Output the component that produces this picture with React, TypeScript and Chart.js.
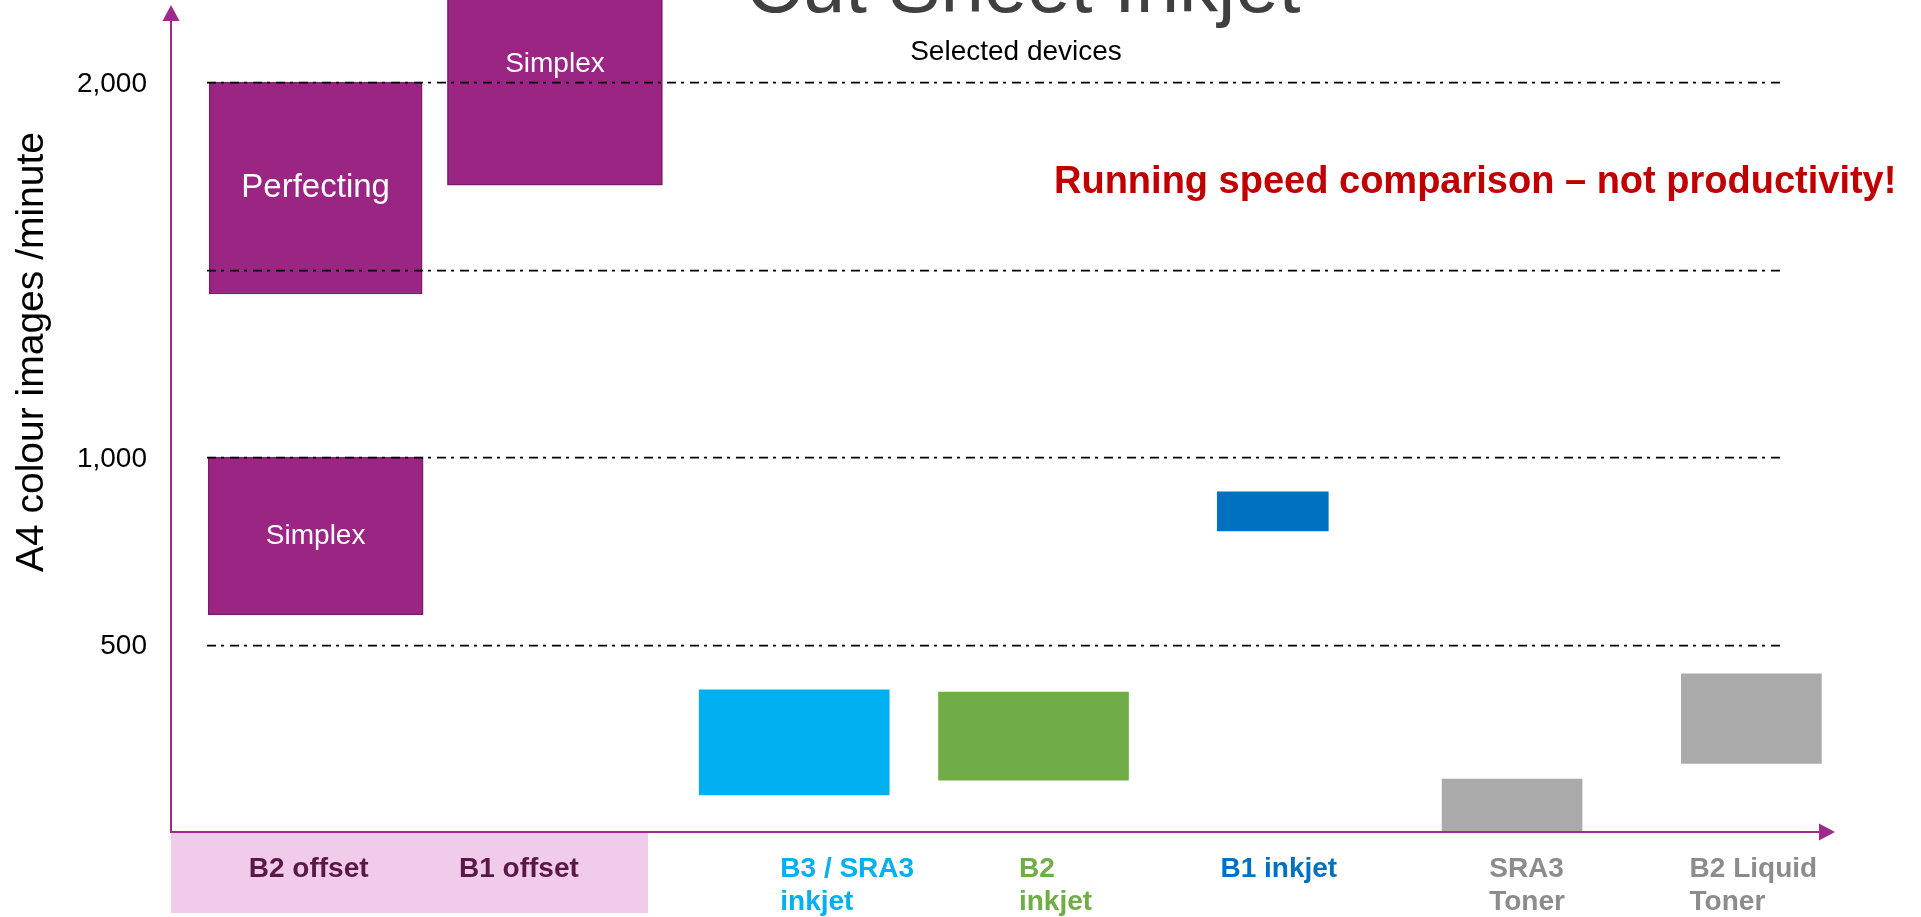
import React, { useEffect, useRef } from 'react';
import { Chart, registerables } from 'chart.js';

Chart.register(...registerables);

// ---------- data ----------
const categories = ['B2 offset', 'B1 offset', 'B3 / SRA3 inkjet', 'B2 inkjet', 'B1 inkjet', 'SRA3 Toner', 'B2 Liquid Toner'];
const categoryLines = [['B2 offset'], ['B1 offset'], ['B3 / SRA3', 'inkjet'], ['B2', 'inkjet'], ['B1 inkjet'], ['SRA3', 'Toner'], ['B2 Liquid', 'Toner']];

const simplexRange = [[579, 1000], [1725, 2370], null, null, null, null, null];
const perfectingRange = [[1435, 2000], null, null, null, null, null, null];
const sheetInkjetRange = [null, null, [99, 379], [138, 373], null, null, null];
const b1InkjetRange = [null, null, null, null, [803, 907], null, null];
const tonerRange = [null, null, null, null, null, [0, 141], [183, 422]];

const yTickValues = [500, 1000, 1500, 2000];
const yTickLabels = ['500', '1,000', '', '2,000'];

const simplexText = 'Simplex';
const perfectingText = 'Perfecting';
const titleText = 'Cut Sheet Inkjet';
const subtitleText = 'Selected devices';
const noteText = 'Running speed comparison \u2013 not productivity!';
const yAxisTitle = 'A4 colour images /minute';

// ---------- styles ----------
const FONT = '"Liberation Sans", Arial, Helvetica, sans-serif';
const PURPLE = '#9B2583';
const PURPLE_EDGE = '#7A1D68';
const AXIS = '#9E2A8E';
const labelColors = ['#5A1849', '#5A1849', '#00B0F0', '#70AD47', '#0070C0', '#8C8C8C', '#8C8C8C'];
const labelNudge = [-7, -36, 53, 22, 6, 15, 2];
const barColors = ['#00B0F0', '#00B0F0', '#00B0F0', '#70AD47', '#0070C0', '#AAAAAA', '#AAAAAA'];

const decorPlugin = {
  id: 'decor',
  beforeDraw(chart: any) {
    const { ctx, chartArea } = chart;
    const ax = chartArea.left - 25;
    ctx.save();
    ctx.fillStyle = '#F1CBEA';
    ctx.fillRect(ax, chartArea.bottom + 1, 648 - ax, 80);
    ctx.restore();
  },
  afterDatasetsDraw(chart: any) {
    const { ctx, chartArea, scales } = chart;
    const y = scales.y;
    const x = scales.x;
    ctx.save();

    // dash-dot grid lines
    ctx.strokeStyle = '#000000';
    ctx.lineWidth = 1.75;
    ctx.setLineDash([9, 5, 3, 6]);
    yTickValues.forEach((v) => {
      const py = Math.round(y.getPixelForValue(v)) + 0.5;
      ctx.beginPath();
      ctx.moveTo(chartArea.left + 11, py);
      ctx.lineTo(chartArea.right - 88, py);
      ctx.stroke();
    });
    ctx.setLineDash([]);

    // y tick labels
    ctx.fillStyle = '#000000';
    ctx.font = `28px ${FONT}`;
    ctx.textAlign = 'right';
    ctx.textBaseline = 'middle';
    yTickValues.forEach((v, i) => {
      if (!yTickLabels[i]) return;
      ctx.fillText(yTickLabels[i], chartArea.left - 49, y.getPixelForValue(v) + 2);
    });

    // labels inside bars
    chart.data.datasets.forEach((ds: any, i: number) => {
      if (!ds.inBarLabel) return;
      const meta = chart.getDatasetMeta(i);
      meta.data.forEach((el: any, j: number) => {
        if (ds.data[j] == null) return;
        ctx.fillStyle = '#FFFFFF';
        ctx.font = `${ds.inBarFont}px ${FONT}`;
        ctx.textAlign = 'center';
        ctx.textBaseline = 'middle';
        ctx.fillText(ds.inBarLabel, el.x, (el.y + el.base) / 2);
      });
    });

    // axes with arrows
    const ax = chartArea.left - 25;
    const ay = chartArea.bottom;
    ctx.strokeStyle = AXIS;
    ctx.fillStyle = AXIS;
    ctx.lineWidth = 2;
    ctx.beginPath();
    ctx.moveTo(ax, ay);
    ctx.lineTo(ax, 20);
    ctx.stroke();
    ctx.beginPath();
    ctx.moveTo(ax, 5);
    ctx.lineTo(ax - 8.5, 21);
    ctx.lineTo(ax + 8.5, 21);
    ctx.closePath();
    ctx.fill();
    ctx.beginPath();
    ctx.moveTo(ax - 1, ay);
    ctx.lineTo(chartArea.right - 51, ay);
    ctx.stroke();
    const tip = chartArea.right - 36;
    ctx.beginPath();
    ctx.moveTo(tip, ay);
    ctx.lineTo(tip - 16, ay - 8.5);
    ctx.lineTo(tip - 16, ay + 8.5);
    ctx.closePath();
    ctx.fill();

    // category labels
    ctx.font = `bold 28px ${FONT}`;
    ctx.textAlign = 'left';
    ctx.textBaseline = 'alphabetic';
    categoryLines.forEach((lines, i) => {
      const cx = x.getPixelForValue(i);
      const w = Math.max(...lines.map((l) => ctx.measureText(l).width));
      ctx.fillStyle = labelColors[i];
      lines.forEach((l, k) => {
        ctx.fillText(l, cx - w / 2 + labelNudge[i], ay + 45 + k * 33);
      });
    });

    // titles and notes
    ctx.fillStyle = '#404040';
    ctx.font = `78px ${FONT}`;
    ctx.textAlign = 'center';
    ctx.fillText(titleText, 1023, 12);
    ctx.fillStyle = '#000000';
    ctx.font = `28px ${FONT}`;
    ctx.fillText(subtitleText, 1016, 60);
    ctx.fillStyle = '#C00000';
    ctx.font = `bold 38px ${FONT}`;
    ctx.textAlign = 'left';
    ctx.fillText(noteText, 1054, 193);

    // y axis title
    ctx.save();
    ctx.translate(43, 352);
    ctx.rotate(-Math.PI / 2);
    ctx.fillStyle = '#000000';
    ctx.font = `39px ${FONT}`;
    ctx.textAlign = 'center';
    ctx.fillText(yAxisTitle, 0, 0);
    ctx.restore();

    ctx.restore();
  },
};

export default function App() {
  const ref = useRef<HTMLCanvasElement | null>(null);

  useEffect(() => {
    if (!ref.current) return;
    const purpleBar = {
      backgroundColor: PURPLE,
      borderColor: PURPLE_EDGE,
      borderWidth: 1.5,
      borderSkipped: false,
    };
    const chart = new Chart(ref.current, {
      type: 'bar',
      data: {
        labels: categories,
        datasets: [
          { label: simplexText, data: simplexRange as any, ...purpleBar, barThickness: 215, inBarLabel: simplexText, inBarFont: 28 } as any,
          { label: perfectingText, data: perfectingRange as any, ...purpleBar, barThickness: 213, inBarLabel: perfectingText, inBarFont: 33 } as any,
          { label: 'Sheet inkjet', data: sheetInkjetRange as any, backgroundColor: barColors, borderWidth: 0, barThickness: 190 } as any,
          { label: 'B1 inkjet', data: b1InkjetRange as any, backgroundColor: barColors, borderWidth: 0, barThickness: 111 } as any,
          { label: 'Toner', data: tonerRange as any, backgroundColor: barColors, borderWidth: 0, barThickness: 140 } as any,
        ],
      },
      options: {
        responsive: false,
        animation: false,
        devicePixelRatio: 1,
        layout: { padding: { top: 0, left: 196, right: 50, bottom: 85 } },
        datasets: { bar: { grouped: false } } as any,
        plugins: { legend: { display: false }, tooltip: { enabled: false }, title: { display: false } },
        scales: {
          x: { type: 'category', display: false, offset: true },
          y: { type: 'linear', display: false, min: 0, max: 2219 },
        },
      },
      plugins: [decorPlugin],
    });
    return () => chart.destroy();
  }, []);

  return (
    <div style={{ position: 'fixed', left: 0, top: 0, width: 1921, height: 917, background: '#ffffff' }}>
      <canvas ref={ref} width={1921} height={917} style={{ display: 'block' }} />
    </div>
  );
}
